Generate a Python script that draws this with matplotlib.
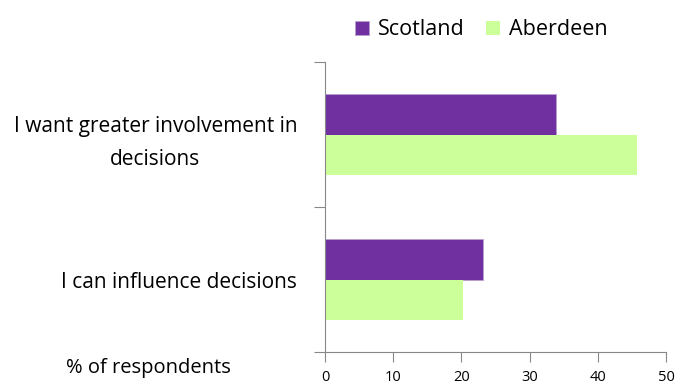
import matplotlib.pyplot as plt
from matplotlib.ticker import FixedLocator

categories = ["I can influence decisions", "I want greater involvement in\ndecisions"]
scotland = [23.1, 33.8]
aberdeen = [20.2, 45.7]
x_ticks = [0, 10, 20, 30, 40, 50]

plt.rcParams['font.family'] = ['Open Sans', 'DejaVu Sans']

fig = plt.figure(figsize=(6.76, 3.84), dpi=100)
ax = fig.add_axes([0.4808, 0.0833, 0.5044, 0.7552])

pos = list(range(len(categories)))
h = 0.28
ax.barh([p + h / 2 for p in pos], scotland, height=h, color="#7030A0",
        edgecolor="#B9A0D0", linewidth=0.6, label="Scotland")
ax.barh([p - h / 2 for p in pos], aberdeen, height=h, color="#CCFF99",
        label="Aberdeen")

ax.set_xlim(0, 50)
ax.set_ylim(-0.5, len(categories) - 0.5)
ax.set_xticks(x_ticks)
ax.tick_params(axis='x', length=7, color="#888888", labelsize=10.5, pad=6)

# boundaries get the tick marks, category names sit between them
ax.yaxis.set_major_locator(FixedLocator([-0.5, 0.5, 1.5]))
ax.yaxis.set_major_formatter(plt.NullFormatter())
ax.tick_params(axis='y', which='major', length=8, color="#888888")
ax.yaxis.set_minor_locator(FixedLocator(pos))
ax.set_yticklabels(categories, minor=True)
ax.tick_params(axis='y', which='minor', length=0, labelsize=15, pad=20)
for t in ax.get_yticklabels(minor=True):
    t.set_multialignment('center')
    t.set_linespacing(1.75)

for s in ['top', 'right']:
    ax.spines[s].set_visible(False)
for s in ['left', 'bottom']:
    ax.spines[s].set_color("#888888")

fig.text(0.219, 0.042, "% of respondents", ha='center', va='center', fontsize=14.5)

fig.legend(loc='upper center', bbox_to_anchor=(0.712, 1.0), ncol=2, frameon=False,
           fontsize=15.5, handlelength=0.65, handleheight=0.65, columnspacing=1.0,
           handletextpad=0.4)

fig.savefig("out.png", dpi=100)
